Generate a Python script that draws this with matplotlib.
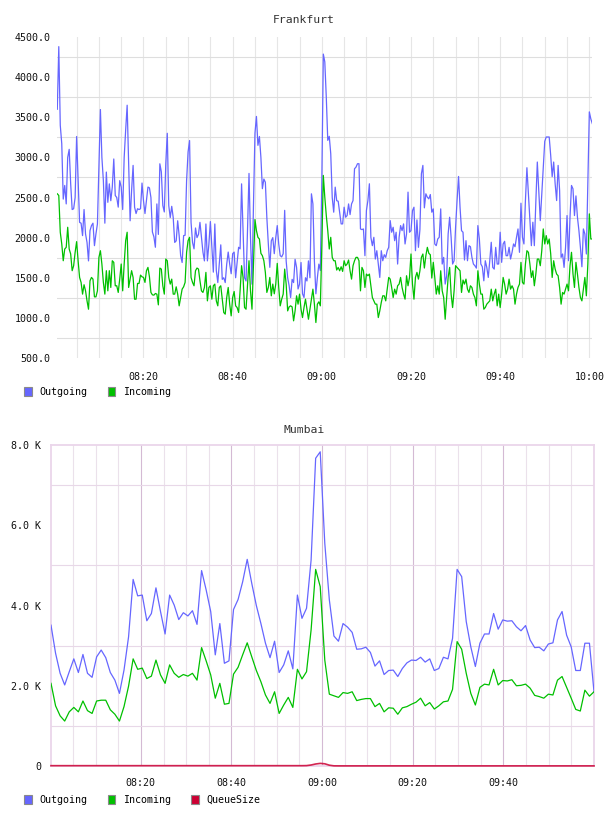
import matplotlib
matplotlib.use("Agg")
import matplotlib.pyplot as plt
import matplotlib.dates as mdates
from matplotlib.ticker import FixedLocator
from matplotlib.patches import Patch
import pandas as pd
import numpy as np

# ---------------- data ----------------
fr_title = "Frankfurt"
mb_title = "Mumbai"
series_names = ["Outgoing", "Incoming", "QueueSize"]
series_colors = ["#6666ff", "#00c000", "#cc0033"]

fr_start, fr_end = "2024-01-01 08:00:40", "2024-01-01 10:00:40"
fr_outgoing = [
    3600, 4380, 3400, 3170, 2480, 2650, 2420, 3000, 3100, 2670,
    2350, 2360, 2500, 3260, 2710, 2190, 2180, 2025, 2350, 2046,
    1940, 1710, 2087, 2150, 2180, 1900, 2046, 2170, 2900, 3596,
    3000, 2710, 2180, 2817, 2440, 2670, 2460, 2630, 2980, 2525,
    2500, 2380, 2710, 2630, 2350, 3000, 3340, 3650, 2920, 2210,
    2590, 2900, 2380, 2300, 2360, 2350, 2360, 2680, 2460, 2300,
    2460, 2630, 2620, 2500, 2070, 2010, 1880, 2420, 2040, 2920,
    2820, 2400, 2320, 2920, 3300, 2400, 2250, 2390, 2250, 1940,
    1960, 2210, 2025, 1775, 1690, 2025, 2030, 2710, 3067, 3210,
    2190, 1940, 1860, 2120, 2000, 2040, 2190, 2000, 1820, 1710,
    2170, 1710, 1920, 2200, 1880, 1570, 2170, 1590, 1440, 1670,
    1910, 1480, 1500, 1440, 1670, 1820, 1670, 1550, 1800, 1820,
    1500, 1690, 1880,
    1860, 2670, 2100, 1500, 1460, 2100, 2800, 2000, 1420, 2400,
    3300, 3510, 3150, 3260, 3000, 2610, 2730, 2690, 2250, 1920,
    1630, 1960, 2000, 1800, 2000, 2150, 1920, 1775, 1760, 1800,
    2340, 1710, 1500, 1400, 1254, 1480, 1440, 1730, 1630, 1360,
    1420, 1690, 1300, 1254, 1500, 1460, 1710, 1500, 2546, 2420,
    1710, 1300, 1500, 1670, 1590, 2710, 4287, 4190, 3750, 3212,
    3262, 3046, 2500, 2317, 2629, 2460, 2454, 2317, 2171, 2171,
    2379, 2254, 2275, 2420, 2287, 2420, 2462, 2858, 2879, 2921,
    2921, 2108, 2100, 2108, 1775, 2337, 2462, 2671, 2004, 1900,
    2004, 1733, 1837, 1671, 1504, 1837, 1712, 1787, 1754, 1837,
    1879, 2212, 2067, 2129, 1962, 2067, 1671, 2004, 2150, 2087,
    2171, 1921, 2046, 2567, 2067, 2087, 2337, 2379, 1837, 2221,
    1879, 2100,
    2796, 2900, 2371, 2546, 2504, 2483, 2537, 2317, 2358, 1921,
    1900, 1983, 2004, 2358, 1671, 1754, 1421, 1525, 2046, 2254,
    2004, 1671, 1712, 2129, 2462, 2762, 2379, 2087, 2067, 1721,
    1962, 1712, 1900, 1887, 1754, 1671, 1650, 1620, 2150, 1983,
    1671, 1637, 1462, 1712, 1629, 1504, 1712, 1942, 1629, 1608,
    1879, 1671, 1671, 2067, 1692, 1921, 1954, 1775, 1775, 1879,
    1733, 1817, 1921, 1887, 2004, 2108, 1817, 2429, 2004, 1921,
    2462, 2871, 2546, 2212, 1900, 2192, 1900, 2442, 2942, 2587,
    2212, 2546, 2879, 3200, 3254, 3254, 3254, 3025, 2760, 2942,
    2671, 2462, 2900, 2587, 1754, 1796, 1629, 1879, 2275, 1712,
    2254, 2650, 2608, 2275, 2520, 2254, 2087, 1879, 1637, 2108,
    2046, 1796, 2671, 3567, 3480, 3421,
]
fr_incoming = [
    2546, 2525, 2067, 1921, 1712, 1858, 1879, 2129, 1858, 1796,
    1588, 1650, 1817, 1950, 1712, 1504, 1442, 1296, 1413, 1337,
    1212, 1108, 1462, 1504, 1483, 1262, 1262, 1337, 1754, 1837,
    1671, 1442, 1296, 1588, 1337, 1588, 1379, 1712, 1692, 1400,
    1400, 1317, 1483, 1671, 1337, 1671, 1962, 2067, 1379, 1483,
    1588, 1504, 1233, 1233, 1429, 1429, 1533, 1512, 1504, 1442,
    1588, 1629, 1512, 1317, 1287, 1283, 1304, 1296, 1162, 1621,
    1608, 1400, 1296, 1733, 1712, 1504, 1421, 1483, 1296, 1296,
    1387, 1296, 1150, 1254, 1358, 1387, 1442, 1817, 1962, 2004,
    1504, 1442, 1400, 1588, 1621, 1608, 1462, 1337, 1317, 1379,
    1567, 1212, 1379, 1400, 1233, 1400, 1421, 1212, 1150, 1379,
    1400, 1233, 1067, 1046, 1254, 1379, 1171, 1025, 1254, 1329,
    1150, 1129, 1067,
    1337, 1650, 1504, 1129, 1108, 1421, 1712, 1337, 1108, 1671,
    2225, 2087, 2004, 1983, 1804, 1775, 1712, 1567, 1317, 1379,
    1504, 1275, 1421, 1300, 1421, 1679, 1379, 1150, 1233, 1296,
    1608, 1421, 1087, 1137, 1150, 1137, 963, 1087, 1275, 1171,
    1296, 1108, 1004, 1129, 1233, 1108, 983, 1108, 1233, 1358,
    1171, 942, 1171, 1200, 1150, 1900, 2775, 2504, 2275, 2087,
    1858, 2004, 1754, 1712, 1712, 1596, 1629, 1587, 1637, 1579,
    1712, 1650, 1671, 1721, 1587, 1483, 1650, 1712, 1754, 1754,
    1712, 1337, 1629, 1587, 1379, 1546, 1525, 1546, 1400, 1254,
    1212, 1171, 1171, 1004, 1087, 1192, 1275, 1275, 1212, 1358,
    1504, 1483, 1379, 1254, 1358, 1296, 1400, 1421, 1504, 1379,
    1296, 1233, 1525, 1400, 1504, 1796, 1421, 1233, 1504, 1567,
    1483, 1587,
    1754, 1796, 1621, 1775, 1879, 1804, 1787, 1496, 1692, 1504,
    1296, 1400, 1296, 1587, 1337, 1254, 983, 1254, 1504, 1629,
    1296, 1129, 1337, 1650, 1629, 1608, 1587, 1317, 1471, 1421,
    1483, 1358, 1317, 1400, 1379, 1296, 1254, 1150, 1587, 1421,
    1296, 1296, 1108, 1129, 1171, 1192, 1212, 1358, 1212, 1296,
    1358, 1150, 1296, 1129, 1296, 1504, 1421, 1296, 1358, 1483,
    1358, 1400, 1358, 1171, 1296, 1379, 1421, 1692, 1442, 1421,
    1671, 1837, 1817, 1671, 1504, 1587, 1400, 1546, 1733, 1733,
    1650, 1837, 2108, 1921, 2025, 1921, 1983, 1800, 1504, 1712,
    1608, 1546, 1525, 1379, 1171, 1317, 1296, 1358, 1421, 1337,
    1650, 1817, 1550, 1379, 1692, 1546, 1379, 1254, 1212, 1358,
    1504, 1275, 1671, 2296, 1983, 1983,
]
fr_ytick_values = [500, 1000, 1500, 2000, 2500, 3000, 3500, 4000, 4500]
fr_ygrid_values = [750, 1250, 1750, 2250, 2750, 3250, 3750, 4250]
fr_time_labels = ["08:20", "08:40", "09:00", "09:20", "09:40", "10:00"]

mb_start, mb_end = "2024-01-01 08:00:10", "2024-01-01 10:00:00"
mb_outgoing = [
    3510, 2810, 2310, 2020, 2350, 2670, 2330, 2780, 2310, 2210,
    2720, 2890, 2700, 2330, 2140, 1810, 2390, 3220, 4650, 4240,
    4260, 3620, 3800, 4440, 3850, 3290, 4260, 4010, 3650, 3820,
    3740, 3870, 3530, 4870, 4390, 3850, 2770, 3550, 2560, 2620,
    3900, 4150, 4590, 5150, 4550, 4000, 3550, 3060, 2700, 3110,
    2330, 2520, 2870, 2420, 4260, 3680, 3930, 5130, 7670, 7830,
    5550, 4140, 3240, 3110, 3550, 3460, 3330, 2910, 2920, 2960,
    2830, 2490, 2620, 2280, 2380, 2390, 2230, 2430, 2570, 2640,
    2630, 2710, 2590, 2670, 2380, 2430, 2710, 2670, 3180, 4900,
    4720, 3600, 2970, 2480, 3060, 3290, 3290, 3800, 3410, 3640,
    3610, 3620, 3470, 3370, 3500, 3140, 2950, 2960, 2870, 3040,
    3070, 3640, 3850, 3260, 2970, 2380, 2380, 3060, 3060, 1850,
]
mb_incoming = [
    2060, 1500, 1250, 1120, 1350, 1460, 1350, 1620, 1380, 1310,
    1620, 1640, 1640, 1400, 1290, 1120, 1480, 1990, 2670, 2410,
    2440, 2180, 2240, 2640, 2270, 2060, 2520, 2310, 2210, 2280,
    2240, 2310, 2140, 2950, 2620, 2270, 1690, 2060, 1540, 1560,
    2290, 2460, 2770, 3070, 2720, 2380, 2100, 1770, 1560, 1850,
    1310, 1520, 1710, 1460, 2410, 2170, 2350, 3390, 4900, 4470,
    2640, 1790, 1750, 1710, 1830, 1810, 1850, 1630, 1660, 1680,
    1680, 1480, 1560, 1350, 1450, 1440, 1290, 1450, 1480, 1540,
    1590, 1690, 1500, 1580, 1420, 1500, 1600, 1620, 1910, 3100,
    2910, 2310, 1810, 1520, 1960, 2040, 2020, 2410, 2020, 2130,
    2120, 2150, 2000, 2010, 2040, 1940, 1760, 1730, 1690, 1790,
    1770, 2140, 2230, 1960, 1690, 1410, 1370, 1890, 1740, 1850,
]
mb_queue = [
    8, 8, 8, 8, 8, 8, 8, 8, 8, 8,
    8, 8, 8, 8, 8, 8, 8, 8, 8, 8,
    8, 8, 8, 8, 8, 8, 8, 8, 8, 8,
    8, 8, 8, 8, 8, 8, 8, 8, 8, 8,
    8, 8, 8, 8, 8, 8, 8, 8, 8, 8,
    8, 8, 8, 8, 8, 8, 10, 25, 50, 65,
    55, 20, 4, 3, 3, 3, 3, 3, 3, 3,
    3, 3, 3, 3, 3, 3, 3, 3, 3, 3,
    3, 3, 3, 3, 3, 3, 3, 3, 3, 3,
    3, 3, 3, 3, 3, 3, 3, 3, 3, 3,
    3, 3, 3, 3, 3, 3, 3, 3, 3, 3,
    3, 3, 3, 3, 3, 3, 3, 3, 3, 3,
]
mb_ytick_values = [0, 2000, 4000, 6000, 8000]
mb_ytick_labels = ["0", "2.0 K", "4.0 K", "6.0 K", "8.0 K"]
mb_ygrid_values = [1000, 2000, 3000, 4000, 5000, 6000, 7000]
mb_time_labels = ["08:20", "08:40", "09:00", "09:20", "09:40"]

# ---------------- styling ----------------
FONT = "DejaVu Sans Mono"
FS = 7.2
W, H = 608, 816
fig = plt.figure(figsize=(W / 100, H / 100), dpi=100)


def fx(px):
    return px / W


def fy(py):
    return 1 - py / H


def day_time(lbl):
    return pd.Timestamp("2024-01-01 " + lbl)


# ---------------- Frankfurt ----------------
fr_times = pd.date_range(fr_start, fr_end, periods=len(fr_outgoing))
ax1 = fig.add_axes([fx(57.3), fy(358), fx(592.3 - 57.3), (358 - 37) / H])
ax1.plot(fr_times, fr_outgoing, color=series_colors[0], lw=0.9, zorder=3)
ax1.plot(fr_times, fr_incoming, color=series_colors[1], lw=0.9, zorder=3)
ax1.set_xlim(fr_times[0], fr_times[-1])
ax1.set_ylim(fr_ytick_values[0], fr_ytick_values[-1])
ax1.yaxis.set_major_locator(FixedLocator(fr_ytick_values))
ax1.set_yticklabels([f"{v:.1f}" for v in fr_ytick_values])
ax1.yaxis.set_minor_locator(FixedLocator(fr_ygrid_values))
ax1.set_xticks([day_time(t) for t in fr_time_labels])
ax1.set_xticklabels(fr_time_labels)
ax1.xaxis.set_minor_locator(mdates.MinuteLocator(byminute=range(0, 60, 5)))
ax1.grid(False)
ax1.grid(True, which="minor", axis="y", color="#dedede", lw=0.8)
ax1.grid(True, which="both", axis="x", color="#e6e6e6", lw=0.8)
for s in ax1.spines.values():
    s.set_visible(False)
ax1.tick_params(which="both", length=0)
ax1.tick_params(axis="y", pad=5)
ax1.tick_params(axis="x", pad=10)
ax1.set_axisbelow(True)

# ---------------- Mumbai ----------------
mb_times = pd.date_range(mb_start, mb_end, periods=len(mb_outgoing))
ax2 = fig.add_axes([fx(51), fy(766), fx(594 - 51), (766 - 445) / H])
ax2.plot(mb_times, mb_outgoing, color=series_colors[0], lw=0.9, zorder=3)
ax2.plot(mb_times, mb_incoming, color=series_colors[1], lw=0.9, zorder=3)
ax2.plot(mb_times, mb_queue, color=series_colors[2], lw=1.2, zorder=4,
         clip_on=False, alpha=0.85)
ax2.set_xlim(mb_times[0], mb_times[-1])
ax2.set_ylim(0, 8000)
ax2.yaxis.set_major_locator(FixedLocator(mb_ytick_values))
ax2.set_yticklabels(mb_ytick_labels)
ax2.yaxis.set_minor_locator(FixedLocator(mb_ygrid_values))
ax2.set_xticks([day_time(t) for t in mb_time_labels])
ax2.set_xticklabels(mb_time_labels)
ax2.xaxis.set_minor_locator(mdates.MinuteLocator(byminute=range(0, 60, 5)))
ax2.grid(False)
ax2.grid(True, which="minor", axis="y", color="#e8d8e8", lw=0.8)
ax2.grid(True, which="minor", axis="x", color="#ebe1eb", lw=0.8)
ax2.grid(True, which="major", axis="x", color="#d4bad4", lw=0.8)
for s in ax2.spines.values():
    s.set_color("#ead6ea")
    s.set_linewidth(1.3)
ax2.tick_params(which="both", length=0)
ax2.tick_params(axis="y", pad=7)
ax2.tick_params(axis="x", pad=9)
ax2.set_axisbelow(True)

for ax in (ax1, ax2):
    for lbl in ax.get_xticklabels() + ax.get_yticklabels():
        lbl.set_fontfamily(FONT)
        lbl.set_fontsize(FS)
        lbl.set_color("#111111")

# titles
fig.text(0.5, fy(20), fr_title, ha="center", va="center",
         family=FONT, fontsize=8.2, color="#333333")
fig.text(0.5, fy(430), mb_title, ha="center", va="center",
         family=FONT, fontsize=8.2, color="#333333")


# legends
def make_legend(n, ypx):
    handles = [Patch(facecolor=series_colors[i], edgecolor="#8a8a8a", lw=0.8)
               for i in range(n)]
    fig.legend(handles, series_names[:n], loc="center left",
               bbox_to_anchor=(fx(24), fy(ypx)), ncol=n, frameon=False,
               prop={"family": FONT, "size": FS}, handlelength=0.75,
               handleheight=0.95, handletextpad=0.8, columnspacing=2.0,
               borderpad=0, borderaxespad=0)


make_legend(2, 392)
make_legend(3, 800)

fig.savefig("out.png", dpi=100, facecolor="white")
